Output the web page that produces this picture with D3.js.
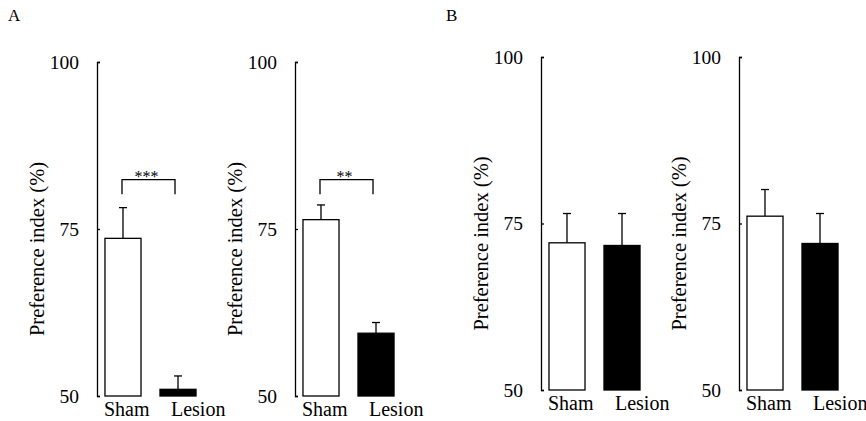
<!DOCTYPE html>
<html>
<head>
<meta charset="utf-8">
<script src="https://cdn.jsdelivr.net/npm/d3@7"></script>
<style>
  body { margin: 0; background: #fff; }
</style>
</head>
<body>
<div id="chart"></div>
<script>
// data
const groups = ["Sham", "Lesion"];
const panelNames = ["A1", "A2", "B1", "B2"];
const means = [[73.6, 51.0], [76.4, 59.4], [72.1, 71.7], [76.1, 72.0]];
const errs = [[4.6, 2.0], [2.2, 1.6], [4.4, 4.8], [4.0, 4.5]];
const yTicks = [50, 75, 100];
const sigStars = ["***", "**", "", ""];
const sigTop = [82.4, 82.4, null, null];
const sigLeg = [80.2, 80.2, null, null];
const panelLetters = ["A", "B"];

const FONT = "Liberation Serif";

const params = {
    width: 866,
    height: 421,
    axisX: [97, 295, 541, 739],
    yTop: [62, 62, 57, 57],
    yBottom: [396, 396, 390, 390],
    bandWidth: 107,
    stroke: 1.3
};

const svg = d3.select("#chart")
    .append("svg")
    .attr("width", params.width)
    .attr("height", params.height)
    .attr("font-family", FONT);

// panel letters
svg.selectAll(".letter")
    .data(panelLetters)
    .enter().append("text")
    .attr("x", (d, i) => i === 0 ? 8 : 446)
    .attr("y", 21)
    .attr("font-family", FONT)
    .attr("font-size", 17)
    .text(d => d);

function drawPanel(p) {
    const x0 = params.axisX[p];
    const g = svg.append("g").attr("transform", `translate(${x0},0)`);

    const y = d3.scaleLinear()
        .domain([50, 100])
        .range([params.yBottom[p], params.yTop[p]]);

    const x = d3.scaleBand()
        .domain(groups)
        .range([0, params.bandWidth])
        .paddingInner(0.345)
        .paddingOuter(0.145);

    // y axis, ticks point inward
    const axis = g.append("g")
        .call(d3.axisLeft(y).tickValues(yTicks).tickSize(-3).tickPadding(18).tickFormat(d3.format("d")));
    axis.attr("font-family", FONT).attr("font-size", 19.5);
    axis.select(".domain").attr("stroke-width", params.stroke);
    axis.selectAll(".tick line").attr("stroke-width", params.stroke);
    axis.selectAll(".tick text")
        .attr("x", -18)
        .attr("font-family", FONT)
        .attr("fill", "#000");

    // y label
    g.append("text")
        .attr("transform", `translate(-60,${(y(50) + y(100)) / 2 + 20}) rotate(-90)`)
        .attr("text-anchor", "middle")
        .attr("dy", "0.35em")
        .attr("font-family", FONT)
        .attr("font-size", 20.5)
        .text("Preference index (%)");

    const rows = groups.map((k, i) => ({key: k, mean: means[p][i], err: errs[p][i]}));

    // error bars (drawn first so bar covers the stem)
    g.selectAll(".err")
        .data(rows)
        .enter().append("line")
        .attr("x1", d => x(d.key) + x.bandwidth() / 2)
        .attr("x2", d => x(d.key) + x.bandwidth() / 2)
        .attr("y1", d => y(d.mean))
        .attr("y2", d => y(d.mean + d.err))
        .attr("stroke", "#000")
        .attr("stroke-width", params.stroke);

    g.selectAll(".cap")
        .data(rows)
        .enter().append("line")
        .attr("x1", d => x(d.key) + x.bandwidth() / 2 - 4)
        .attr("x2", d => x(d.key) + x.bandwidth() / 2 + 4)
        .attr("y1", d => y(d.mean + d.err))
        .attr("y2", d => y(d.mean + d.err))
        .attr("stroke", "#000")
        .attr("stroke-width", params.stroke);

    // bars
    g.selectAll(".bar")
        .data(rows)
        .enter().append("rect")
        .attr("x", d => x(d.key))
        .attr("y", d => y(d.mean))
        .attr("width", x.bandwidth())
        .attr("height", d => y(50) - y(d.mean))
        .attr("fill", d => d.key === "Sham" ? "#fff" : "#000")
        .attr("stroke", "#000")
        .attr("stroke-width", params.stroke);

    // category labels
    g.selectAll(".cat")
        .data(groups)
        .enter().append("text")
        .attr("x", d => d === "Sham" ? x(d) - 1 : x(d) + 11)
        .attr("y", y(50) + 20)
        .attr("font-family", FONT)
        .attr("font-size", 20)
        .text(d => d);

    // significance bracket
    if (sigTop[p] !== null) {
        const xa = x("Sham") + x.bandwidth() / 2 - 1;
        const xb = x("Lesion") + x.bandwidth() / 2 - 3;
        g.append("path")
            .attr("d", `M${xa},${y(sigLeg[p])}V${y(sigTop[p])}H${xb}V${y(sigLeg[p])}`)
            .attr("fill", "none")
            .attr("stroke", "#000")
            .attr("stroke-width", params.stroke);
        g.append("text")
            .attr("x", (xa + xb) / 2 - 2)
            .attr("y", y(sigTop[p]) + 2.5)
            .attr("text-anchor", "middle")
            .attr("font-family", FONT)
            .attr("font-size", 16)
            .text(sigStars[p]);
    }
}

panelNames.forEach((name, p) => drawPanel(p));
</script>
</body>
</html>
